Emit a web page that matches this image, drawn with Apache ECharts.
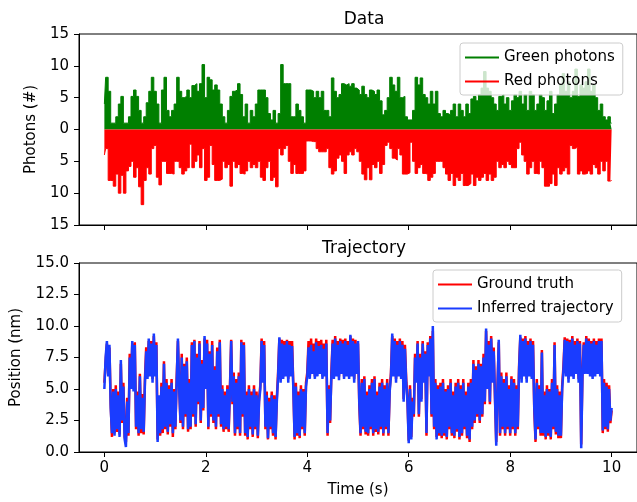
<!DOCTYPE html>
<html>
<head>
<meta charset="utf-8">
<script src="https://cdn.jsdelivr.net/npm/echarts@6/dist/echarts.min.js"></script>
<style>
  html, body { margin: 0; padding: 0; background: #fff; }
  #chart { width: 637px; height: 502px; }
</style>
</head>
<body>
<div id="chart"></div>
<script>
// photon counts per 0.05 s bin (red stored as positive counts, drawn downward)
var photonDt = 0.05;
var greenPhotons = [
  4, 8.2, 6, 1, 1, 2, 4, 5.2, 1, 1,
  2, 5.2, 6.2, 5.2, 3, 1, 2, 4.2, 6, 8.2,
  6, 4, 1, 6.2, 8.2, 3, 2, 3, 4, 8.2,
  6, 5, 5.2, 6.2, 5, 6.9, 7.2, 6, 7.2, 10.2,
  5, 8.2, 7.8, 6.2, 7, 6.2, 4, 2, 1, 3,
  5.2, 6, 6.2, 7.2, 5.5, 2, 4, 1, 3, 2,
  4, 6.2, 6.2, 6.2, 5, 2.5, 1.5, 3, 1, 2.5,
  10.2, 7.2, 7.2, 7.2, 2, 2, 4, 3, 2, 1,
  6.2, 6.2, 6, 5, 6, 5, 6, 3, 3, 2,
  8.1, 6, 5, 5.5, 7.2, 7, 7.2, 6.8, 7.2, 6.5,
  6.2, 5.5, 6.8, 5.5, 5, 6.2, 6, 5.5, 6.2, 4.5,
  2.3, 3, 5, 8.2, 7, 6, 8.2, 5, 5.2, 2,
  1.5, 1.5, 3, 8.2, 7, 8.1, 5.5, 5, 4, 6,
  4, 6, 2.5, 2, 3, 2.5, 2.3, 3, 4, 2,
  4, 3, 2, 4, 2.5, 4.8, 5.2, 4.5, 5.5, 6.5,
  9.1, 6.5, 6, 5, 4, 3, 5.2, 5.5, 4, 5,
  3, 4.5, 5.5, 5, 6, 4, 5.5, 3, 6, 5.5,
  3, 4, 5.5, 5, 3, 4.5, 6, 2.5, 4, 5.5,
  7, 8.8, 6, 7.5, 5, 6, 9.5, 5.2, 7, 6.5,
  7.5, 9.5, 6, 7, 5, 3, 4, 2, 1.5, 2,
  1
];
var redPhotons = [
  4, 3, 8, 8, 8.9, 7, 10, 7.2, 10, 6.5,
  5.8, 5, 7.5, 6, 9, 11.8, 8, 6, 7, 3,
  2.5, 7.5, 8.7, 5, 5, 6.9, 6.9, 7, 5, 5,
  6, 7, 6.5, 6, 2.3, 6, 5, 4, 6, 3,
  8, 7.5, 2.5, 5.5, 8, 8, 7.8, 5, 6, 5.5,
  8.9, 5, 6, 5.5, 6.9, 7, 6.5, 5, 6, 5.5,
  6, 5, 7.5, 8, 6, 5, 8, 7.5, 9, 3,
  4, 3, 2.5, 5, 6.9, 5.5, 6.9, 6.9, 6.9, 6.5,
  1.8, 1.8, 1.9, 1.9, 3, 3.5, 3.5, 3.5, 3, 6,
  7, 6.5, 4.5, 4, 5, 6.9, 4, 3.5, 4, 3,
  3.5, 5, 7, 7.9, 6, 7.9, 5.5, 6, 5, 6.9,
  5.5, 2.5, 2, 3, 4.5, 4.8, 3, 4, 7, 7,
  6.8, 2, 5, 6.9, 6, 5.5, 6.9, 7, 8, 7.5,
  6.9, 5, 5, 5, 6, 7, 8, 6.9, 8.8, 7.5,
  8, 6.9, 8.8, 8.8, 8.5, 7, 8.8, 7.5, 8, 7.5,
  6.9, 8, 7, 8, 7.5, 5, 6, 5.5, 6, 5,
  5.5, 6, 6, 3, 2, 4, 5, 7, 6, 5,
  6.9, 7, 5, 6, 8.9, 8.9, 8.5, 7, 8.8, 6,
  7, 6.5, 6, 7, 2.5, 3, 2.8, 7, 6.5, 7,
  6.9, 6.5, 7, 5.5, 6, 7, 5, 6.5, 5, 8.1,
  8
];

// positions (nm) every 0.025 s
var trajDt = 0.025;
var groundTruth = [
  5.5, 7.2, 8.6, 6.2, 8.3, 3.8, 1.2, 5.0, 1.5, 5.3,
  1.6, 4.8, 1.4, 7.0, 2.3, 5.5, 1.2, 0.8, 4.3, 1.3,
  7.8, 5.3, 8.6, 5.0, 8.7, 1.8, 4.8, 1.3, 6.2, 1.5,
  4.6, 1.4, 5.8, 8.3, 6.0, 8.8, 6.3, 8.8, 5.8, 9.2,
  6.2, 8.7, 1.0, 4.2, 1.3, 5.5, 1.5, 7.2, 1.8, 5.8,
  1.4, 5.3, 2.0, 5.8, 1.2, 5.0, 1.8, 5.8, 8.8, 5.3,
  2.3, 7.8, 1.8, 7.0, 2.8, 7.5, 1.6, 5.8, 1.8, 8.7,
  2.8, 8.9, 2.0, 7.8, 3.8, 8.8, 2.3, 7.3, 3.3, 9.0,
  5.2, 8.9, 1.8, 8.0, 2.8, 8.8, 2.3, 6.8, 1.8, 8.3,
  2.8, 8.9, 2.0, 5.3, 1.6, 4.8, 1.8, 5.3, 1.6, 5.0,
  8.9, 3.8, 6.3, 1.3, 5.8, 1.8, 6.3, 1.3, 8.9, 2.8,
  8.7, 1.3, 4.8, 1.0, 5.3, 1.8, 4.8, 1.2, 5.3, 1.8,
  4.8, 1.1, 4.3, 5.3, 9.0, 5.8, 8.8, 1.8, 4.8, 1.0,
  4.3, 1.8, 4.8, 1.3, 4.5, 1.0, 4.3, 6.3, 9.0, 5.8,
  8.9, 6.0, 8.8, 6.3, 8.9, 5.8, 8.8, 6.3, 8.8, 5.3,
  1.0, 5.5, 1.3, 4.8, 1.1, 5.3, 1.8, 5.0, 1.3, 5.5,
  6.3, 8.8, 6.0, 9.0, 6.5, 8.6, 6.0, 9.0, 6.3, 8.8,
  6.5, 8.9, 6.0, 8.6, 6.3, 8.9, 1.3, 5.3, 2.3, 6.3,
  8.9, 6.0, 9.2, 6.3, 8.8, 6.0, 9.0, 6.5, 8.9, 6.0,
  9.0, 6.3, 8.8, 6.0, 9.2, 6.3, 9.0, 5.8, 8.9, 6.4,
  8.6, 3.8, 1.3, 5.8, 1.8, 6.0, 1.4, 4.8, 1.3, 5.3,
  1.8, 5.8, 1.3, 6.0, 1.6, 4.8, 1.4, 5.5, 1.8, 5.8,
  1.3, 5.3, 1.8, 5.8, 1.3, 5.0, 6.3, 9.2, 6.3, 9.0,
  5.8, 8.8, 6.3, 9.0, 6.0, 8.8, 4.2, 8.5, 5.8, 4.2,
  0.9, 5.3, 1.2, 4.3, 2.8, 7.8, 5.8, 8.8, 2.8, 7.8,
  4.2, 8.8, 5.8, 8.0, 1.3, 8.7, 6.3, 9.2, 2.8, 9.6,
  1.8, 5.8, 1.2, 5.3, 1.3, 5.5, 1.1, 5.8, 1.3, 5.0,
  1.0, 5.3, 1.8, 5.8, 1.3, 4.8, 1.1, 5.5, 1.6, 5.8,
  1.0, 5.3, 1.3, 5.8, 1.8, 4.8, 1.1, 5.5, 0.8, 5.8,
  1.8, 7.3, 2.3, 6.8, 2.8, 7.3, 2.3, 7.0, 2.8, 7.8,
  3.8, 9.6, 5.3, 8.8, 3.8, 9.2, 5.8, 8.3, 4.3, 0.8,
  5.3, 8.7, 1.3, 6.3, 1.8, 5.8, 1.3, 6.3, 1.8, 5.3,
  1.3, 6.0, 1.8, 5.8, 1.3, 5.3, 1.8, 6.8, 9.1, 5.8,
  9.0, 6.3, 9.2, 5.8, 8.8, 6.3, 9.0, 6.0, 8.8, 3.3,
  0.8, 5.8, 1.8, 5.3, 1.3, 8.1, 1.3, 4.8, 1.0, 5.3,
  1.3, 5.0, 1.0, 5.8, 1.8, 8.7, 1.4, 5.3, 1.1, 4.8,
  1.1, 5.3, 6.8, 9.1, 6.3, 9.0, 5.8, 8.9, 6.3, 9.2,
  6.0, 8.8, 6.5, 9.0, 5.8, 8.8, 0.6, 6.3, 8.7, 6.5,
  9.2, 6.5, 9.0, 6.3, 8.8, 6.0, 9.0, 6.3, 8.8, 6.5,
  9.0, 6.3, 9.0, 1.5, 5.8, 1.8, 5.5, 1.6, 5.3, 2.3,
  3.3
];
var inferred = [
  5.0, 7.5, 8.8, 6.0, 8.5, 3.5, 1.5, 4.8, 1.3, 5.0,
  1.8, 4.5, 1.2, 7.3, 2.5, 5.2, 1.0, 0.4, 4.0, 1.5,
  7.5, 5.0, 8.8, 4.8, 8.5, 2.0, 4.5, 1.5, 6.0, 1.8,
  4.3, 1.6, 5.5, 8.0, 5.8, 9.0, 6.0, 8.6, 5.5, 9.4,
  6.0, 8.5, 0.8, 4.5, 1.5, 5.2, 1.8, 7.0, 2.0, 5.5,
  1.6, 5.0, 2.2, 5.5, 1.5, 4.8, 2.0, 5.5, 9.0, 5.0,
  2.5, 7.5, 2.0, 6.8, 3.0, 7.2, 1.8, 5.5, 2.0, 8.5,
  3.0, 8.8, 2.2, 7.5, 4.0, 8.6, 2.5, 7.0, 3.5, 9.2,
  5.0, 8.6, 2.0, 7.8, 3.0, 8.5, 2.5, 6.5, 2.0, 8.0,
  3.0, 8.7, 2.2, 5.0, 1.8, 4.5, 2.0, 5.0, 1.8, 4.8,
  8.8, 4.0, 6.0, 1.5, 5.5, 2.0, 6.0, 1.5, 8.7, 3.0,
  8.5, 1.5, 4.5, 1.2, 5.0, 2.0, 4.5, 1.4, 5.0, 2.0,
  4.5, 1.3, 4.0, 5.0, 8.8, 5.5, 8.5, 2.0, 4.5, 1.1,
  4.0, 2.0, 4.5, 1.5, 4.2, 1.2, 4.0, 6.0, 9.1, 5.5,
  8.6, 5.8, 8.5, 6.0, 8.8, 5.5, 8.5, 6.0, 8.4, 5.0,
  1.2, 5.2, 1.5, 4.5, 1.3, 5.0, 2.0, 4.8, 1.5, 5.2,
  6.0, 8.3, 5.8, 8.5, 6.2, 8.0, 5.8, 8.7, 6.0, 8.4,
  6.2, 8.5, 5.8, 8.2, 6.0, 8.6, 1.5, 5.0, 2.5, 6.0,
  8.6, 5.8, 9.0, 6.0, 8.5, 5.7, 8.8, 6.2, 8.6, 5.8,
  8.8, 6.0, 8.5, 5.8, 9.3, 6.0, 8.8, 5.5, 8.6, 6.2,
  8.8, 4.0, 1.5, 5.5, 2.0, 5.8, 1.6, 4.5, 1.5, 5.0,
  2.0, 5.5, 1.5, 5.8, 1.8, 4.5, 1.6, 5.2, 2.0, 5.5,
  1.5, 5.0, 2.0, 5.5, 1.5, 4.8, 6.0, 9.4, 6.0, 8.8,
  5.5, 8.5, 6.0, 8.8, 5.8, 8.5, 4.0, 8.2, 5.5, 4.0,
  0.7, 5.0, 1.0, 4.0, 3.0, 7.5, 5.5, 8.6, 3.0, 7.5,
  4.0, 8.6, 5.5, 7.8, 1.5, 8.5, 6.0, 9.0, 3.0, 10.0,
  2.0, 5.5, 1.0, 5.0, 1.5, 5.2, 1.3, 5.5, 1.5, 4.8,
  1.2, 5.0, 2.0, 5.5, 1.5, 4.5, 1.3, 5.2, 1.8, 5.5,
  1.2, 5.0, 1.5, 5.5, 2.0, 4.5, 1.3, 5.2, 1.0, 5.5,
  2.0, 7.0, 2.5, 6.5, 3.0, 7.0, 2.5, 6.8, 3.0, 7.5,
  4.0, 9.8, 5.0, 8.5, 4.0, 9.0, 5.5, 8.0, 4.5, 0.5,
  5.0, 8.9, 1.5, 6.0, 2.0, 5.5, 1.5, 6.0, 2.0, 5.0,
  1.5, 5.8, 2.0, 5.5, 1.5, 5.0, 2.0, 6.5, 9.3, 5.5,
  8.8, 6.0, 9.0, 5.5, 8.5, 6.0, 8.8, 5.8, 8.5, 3.5,
  1.0, 5.5, 2.0, 5.0, 1.5, 7.9, 1.5, 4.5, 1.2, 5.0,
  1.5, 4.8, 1.2, 5.5, 2.0, 8.5, 1.6, 5.0, 1.3, 4.5,
  1.3, 5.0, 6.5, 8.9, 6.0, 8.8, 5.5, 8.7, 6.0, 9.0,
  5.8, 8.5, 6.2, 8.8, 5.5, 8.6, 0.3, 6.0, 8.5, 6.2,
  9.0, 6.2, 8.8, 6.0, 8.6, 5.8, 8.8, 6.0, 8.5, 6.2,
  8.8, 6.0, 8.8, 1.7, 5.5, 2.0, 5.2, 1.8, 5.0, 2.5,
  3.5
];

var xTicks = [0, 2, 4, 6, 8, 10];

function withTime(values, dt, sign) {
    return values.map(function (v, i) {
        return [Math.round(i * dt * 1000) / 1000, sign * v];
    });
}

function init() {
    var myChart = echarts.init(document.getElementById('chart'));
    var font = 'DejaVu Sans';

    var xAxisBase = {
        type: 'value',
        min: -0.5,
        max: 10.5,
        splitLine: { show: false },
        axisLine: { show: true, onZero: false, lineStyle: { color: '#000', width: 1 } },
        axisTick: { show: true, inside: false, length: 5, customValues: xTicks, lineStyle: { color: '#000' } },
        axisLabel: { customValues: xTicks, color: '#000', fontSize: 15, fontFamily: font, margin: 9 }
    };

    var legendBase = {
        orient: 'vertical',
        icon: 'rect', itemWidth: 34, itemHeight: 2, itemGap: 9, itemTextGap: 11,
        padding: [7, 8, 6, 5],
        backgroundColor: 'rgba(255,255,255,0.8)', borderColor: '#cccccc', borderWidth: 1, borderRadius: 3,
        selectedMode: false,
        textStyle: { fontSize: 15, lineHeight: 15, color: '#000', fontFamily: font }
    };

    myChart.setOption({
        animation: false,
        textStyle: { fontFamily: font },
        title: [
            { text: 'Data', left: 359, top: 6, textAlign: 'center',
              textStyle: { fontSize: 17, fontWeight: 'normal', color: '#000', fontFamily: font } },
            { text: 'Trajectory', left: 359, top: 235, textAlign: 'center',
              textStyle: { fontSize: 17, fontWeight: 'normal', color: '#000', fontFamily: font } }
        ],
        grid: [
            { left: 79, top: 34, width: 560, height: 191, show: true, borderColor: '#000', borderWidth: 1 },
            { left: 79, top: 263, width: 560, height: 189, show: true, borderColor: '#000', borderWidth: 1 }
        ],
        legend: [
            Object.assign({}, legendBase, { data: ['Green photons', 'Red photons'], left: 460, top: 43 }),
            Object.assign({}, legendBase, { data: ['Ground truth', 'Inferred trajectory'], left: 433, top: 270 })
        ],
        xAxis: [
            Object.assign({}, xAxisBase, { gridIndex: 0, axisLabel: { show: false } }),
            Object.assign({}, xAxisBase, {
                gridIndex: 1,
                name: 'Time (s)', nameLocation: 'middle', nameGap: 31,
                nameTextStyle: { fontSize: 15, color: '#000', fontFamily: font }
            })
        ],
        yAxis: [
            {
                type: 'value', gridIndex: 0, min: -15, max: 15, interval: 5,
                name: 'Photons (#)', nameLocation: 'middle', nameGap: 39,
                nameTextStyle: { fontSize: 15, color: '#000', fontFamily: font },
                splitLine: { show: false },
                axisLine: { show: true, onZero: false, lineStyle: { color: '#000' } },
                axisTick: { show: true, inside: false, length: 5, lineStyle: { color: '#000' } },
                axisLabel: { color: '#000', fontSize: 15, fontFamily: font, margin: 10,
                             formatter: function (v) { return String(Math.abs(v)); } }
            },
            {
                type: 'value', gridIndex: 1, min: 0, max: 15, interval: 2.5,
                name: 'Position (nm)', nameLocation: 'middle', nameGap: 55,
                nameTextStyle: { fontSize: 15, color: '#000', fontFamily: font },
                splitLine: { show: false },
                axisLine: { show: true, onZero: false, lineStyle: { color: '#000' } },
                axisTick: { show: true, inside: false, length: 5, lineStyle: { color: '#000' } },
                axisLabel: { color: '#000', fontSize: 15, fontFamily: font, margin: 10,
                             formatter: function (v) { return v.toFixed(1); } }
            }
        ],
        series: [
            {
                name: 'Green photons', type: 'line', xAxisIndex: 0, yAxisIndex: 0,
                data: withTime(greenPhotons, photonDt, 1), step: 'middle', showSymbol: false,
                color: '#007f00',
                lineStyle: { width: 1, color: '#007f00' },
                areaStyle: { origin: 0, color: '#007f00', opacity: 1 }
            },
            {
                name: 'Red photons', type: 'line', xAxisIndex: 0, yAxisIndex: 0,
                data: withTime(redPhotons, photonDt, -1), step: 'middle', showSymbol: false,
                color: '#ff0000',
                lineStyle: { width: 1, color: '#ff0000' },
                areaStyle: { origin: 0, color: '#ff0000', opacity: 1 }
            },
            {
                name: 'Ground truth', type: 'line', xAxisIndex: 1, yAxisIndex: 1,
                data: withTime(groundTruth, trajDt, 1), showSymbol: false,
                color: '#ff0000',
                lineStyle: { width: 2.5, color: '#ff0000' }
            },
            {
                name: 'Inferred trajectory', type: 'line', xAxisIndex: 1, yAxisIndex: 1,
                data: withTime(inferred, trajDt, 1), showSymbol: false,
                color: '#1a3cff',
                lineStyle: { width: 2.5, color: '#1a3cff' }
            }
        ]
    });
}

document.addEventListener("DOMContentLoaded", function (event) {
    init();
});
</script>
</body>
</html>
